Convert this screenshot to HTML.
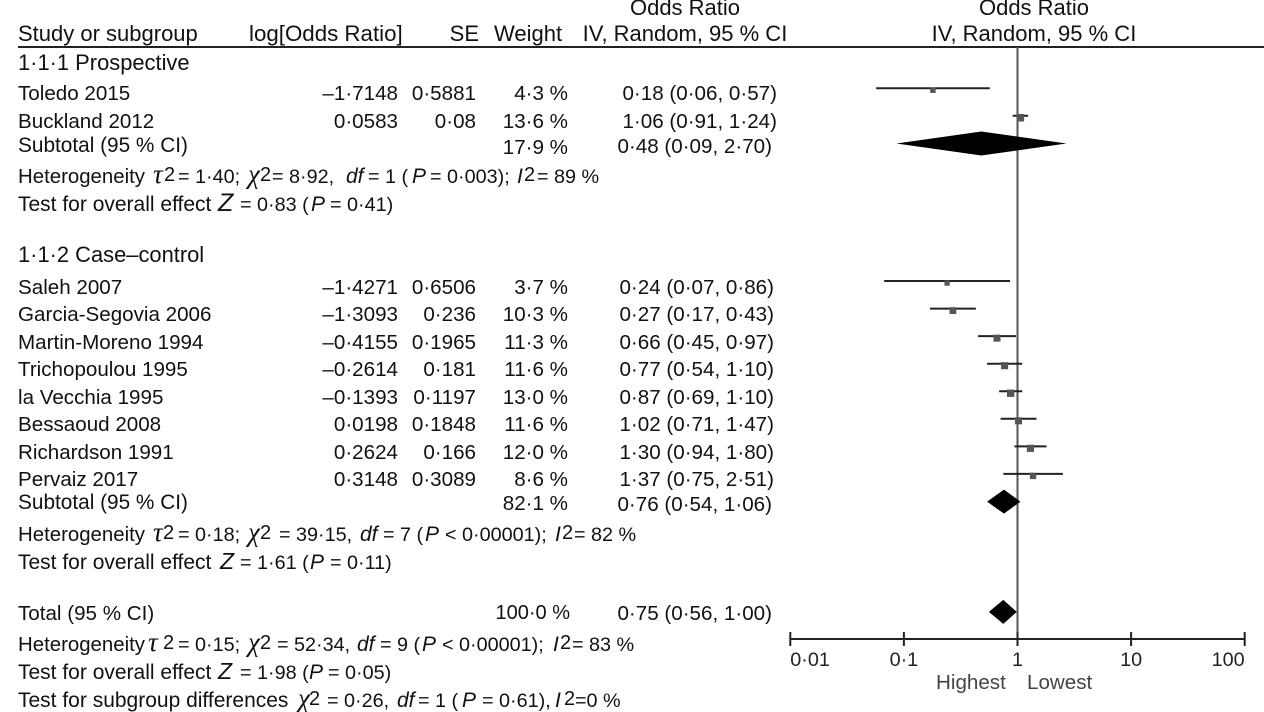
<!DOCTYPE html>
<html lang="en">
<head>
<meta charset="utf-8">
<title>Forest plot</title>
<style>
html,body{margin:0;padding:0;background:#fff;}
svg{display:block;}
text{font-family:"Liberation Sans",Arial,sans-serif;fill:#111;font-size:20.6px;}
.h{font-size:22px;}
.g{font-size:21.9px;}
.s{font-size:20.8px;}
.n{font-size:21px;}
.het{font-size:20.4px;}
.m{font-size:19.8px;}
.r{text-anchor:end;}
.c{text-anchor:middle;}
.gk{font-family:"Liberation Serif",serif;font-style:italic;font-size:27px;}
.i{font-style:italic;}
.sup{font-size:20px;}
.ax{font-size:19.8px;fill:#222;}
.lab{font-size:20.6px;fill:#444;}
</style>
</head>
<body>
<svg id="chart" width="1264" height="712" viewBox="0 0 1264 712" xmlns="http://www.w3.org/2000/svg">
<rect width="1264" height="712" fill="#fff"/>

<g>
<text class="h" x="18" y="41">Study or subgroup</text>
<text class="h" x="249" y="41" style="font-size:22.3px">log[Odds Ratio]</text>
<text class="h r" x="479" y="41">SE</text>
<text class="h" x="494" y="41">Weight</text>
<text class="h c" x="685" y="15">Odds Ratio</text>
<text class="h c" x="685" y="41">IV, Random, 95 % CI</text>
<text class="h c" x="1034" y="15">Odds Ratio</text>
<text class="h c" x="1034" y="41">IV, Random, 95 % CI</text>
</g>
<rect x="18" y="46" width="1246" height="2" fill="#222"/>

<g>
<text class="g" x="18" y="70">1·1·1 Prospective</text>

<g>
<text x="18" y="100">Toledo 2015</text><text class="r" x="398" y="100">–1·7148</text><text class="r" x="476" y="100">0·5881</text><text class="r" x="568" y="100">4·3 %</text><text class="r" x="777" y="100">0·18 (0·06, 0·57)</text>
</g>
<g>
<text x="18" y="128">Buckland 2012</text><text class="r" x="398" y="128">0·0583</text><text class="r" x="476" y="128">0·08</text><text class="r" x="568" y="128">13·6 %</text><text class="r" x="777" y="128">1·06 (0·91, 1·24)</text>
</g>
<g>
<text class="s" x="18" y="152">Subtotal (95 % CI)</text><text class="r" x="568" y="154">17·9 %</text><text class="r" x="772" y="153">0·48 (0·09, 2·70)</text>
</g>
<text class="n" y="183"><tspan class="het" x="18" y="183">Heterogeneity</tspan><tspan class="gk" x="153" y="183">τ</tspan><tspan class="sup" x="164" y="181">2</tspan><tspan class="m" x="178" y="183">= 1·40;</tspan><tspan class="gk" x="248" y="183">χ</tspan><tspan class="sup" x="260" y="181">2</tspan><tspan class="m" x="272" y="183">= 8·92,</tspan><tspan class="i" x="346" y="183">df</tspan><tspan class="m" x="368" y="183">= 1 (</tspan><tspan class="i" x="412" y="183">P</tspan><tspan class="m" x="430" y="183">= 0·003);</tspan><tspan class="i" x="517" y="183">I</tspan><tspan class="sup" x="524" y="181">2</tspan><tspan class="m" x="537" y="183">= 89 %</tspan></text>
<text class="n" y="211"><tspan x="18" y="211">Test for overall effect</tspan><tspan class="i" x="218" y="211" style="font-size:25px">Z</tspan><tspan class="m" x="240" y="211">= 0·83 (</tspan><tspan class="i" x="311" y="211">P</tspan><tspan class="m" x="330" y="211">= 0·41)</tspan></text>

<text class="g" x="18" y="262">1·1·2 Case–control</text>

<g>
<text x="18" y="294">Saleh 2007</text><text class="r" x="398" y="294">–1·4271</text><text class="r" x="476" y="294">0·6506</text><text class="r" x="568" y="294">3·7 %</text><text class="r" x="774" y="294">0·24 (0·07, 0·86)</text>
</g>
<g>
<text x="18" y="321">Garcia-Segovia 2006</text><text class="r" x="398" y="321">–1·3093</text><text class="r" x="476" y="321">0·236</text><text class="r" x="568" y="321">10·3 %</text><text class="r" x="774" y="321">0·27 (0·17, 0·43)</text>
</g>
<g>
<text x="18" y="349">Martin-Moreno 1994</text><text class="r" x="398" y="349">–0·4155</text><text class="r" x="476" y="349">0·1965</text><text class="r" x="568" y="349">11·3 %</text><text class="r" x="774" y="349">0·66 (0·45, 0·97)</text>
</g>
<g>
<text x="18" y="376">Trichopoulou 1995</text><text class="r" x="398" y="376">–0·2614</text><text class="r" x="476" y="376">0·181</text><text class="r" x="568" y="376">11·6 %</text><text class="r" x="774" y="376">0·77 (0·54, 1·10)</text>
</g>
<g>
<text x="18" y="404">la Vecchia 1995</text><text class="r" x="398" y="404">–0·1393</text><text class="r" x="476" y="404">0·1197</text><text class="r" x="568" y="404">13·0 %</text><text class="r" x="774" y="404">0·87 (0·69, 1·10)</text>
</g>
<g>
<text x="18" y="431">Bessaoud 2008</text><text class="r" x="398" y="431">0·0198</text><text class="r" x="476" y="431">0·1848</text><text class="r" x="568" y="431">11·6 %</text><text class="r" x="774" y="431">1·02 (0·71, 1·47)</text>
</g>
<g>
<text x="18" y="459">Richardson 1991</text><text class="r" x="398" y="459">0·2624</text><text class="r" x="476" y="459">0·166</text><text class="r" x="568" y="459">12·0 %</text><text class="r" x="774" y="459">1·30 (0·94, 1·80)</text>
</g>
<g>
<text x="18" y="486">Pervaiz 2017</text><text class="r" x="398" y="486">0·3148</text><text class="r" x="476" y="486">0·3089</text><text class="r" x="568" y="486">8·6 %</text><text class="r" x="774" y="486">1·37 (0·75, 2·51)</text>
</g>
<g>
<text class="s" x="18" y="509">Subtotal (95 % CI)</text><text class="r" x="568" y="510">82·1 %</text><text class="r" x="772" y="511">0·76 (0·54, 1·06)</text>
</g>
<text class="n" y="541"><tspan class="het" x="18" y="541">Heterogeneity</tspan><tspan class="gk" x="153" y="541">τ</tspan><tspan class="sup" x="163" y="539">2</tspan><tspan class="m" x="178" y="541">= 0·18;</tspan><tspan class="gk" x="248" y="541">χ</tspan><tspan class="sup" x="260" y="539">2</tspan><tspan class="m" x="279" y="541">= 39·15,</tspan><tspan class="i" x="360" y="541">df</tspan><tspan class="m" x="383" y="541">= 7 (</tspan><tspan class="i" x="425" y="541">P</tspan><tspan class="m" x="445" y="541">&lt; 0·00001);</tspan><tspan class="i" x="555" y="541">I</tspan><tspan class="sup" x="562" y="539">2</tspan><tspan class="m" x="574" y="541">= 82 %</tspan></text>
<text class="n" y="569"><tspan x="18" y="569">Test for overall effect</tspan><tspan class="i" x="220" y="569" style="font-size:23px">Z</tspan><tspan class="m" x="240" y="569">= 1·61 (</tspan><tspan class="i" x="310" y="569">P</tspan><tspan class="m" x="330" y="569">= 0·11)</tspan></text>

<g>
<text x="18" y="620">Total (95 % CI)</text><text class="r" x="570" y="619" style="font-size:20px">100·0 %</text><text class="r" x="772" y="620">0·75 (0·56, 1·00)</text>
</g>
<text class="n" y="651"><tspan class="het" x="18" y="651">Heterogeneity</tspan><tspan class="gk" x="148" y="651">τ</tspan><tspan class="sup" x="163" y="649">2</tspan><tspan class="m" x="178" y="651">= 0·15;</tspan><tspan class="gk" x="248" y="651">χ</tspan><tspan class="sup" x="260" y="649">2</tspan><tspan class="m" x="277" y="651">= 52·34,</tspan><tspan class="i" x="357" y="651">df</tspan><tspan class="m" x="380" y="651">= 9 (</tspan><tspan class="i" x="422" y="651">P</tspan><tspan class="m" x="442" y="651">&lt; 0·00001);</tspan><tspan class="i" x="553" y="651">I</tspan><tspan class="sup" x="560" y="649">2</tspan><tspan class="m" x="572" y="651">= 83 %</tspan></text>
<text class="n" y="679"><tspan x="18" y="679">Test for overall effect</tspan><tspan class="i" x="218" y="679" style="font-size:23px">Z</tspan><tspan class="m" x="240" y="679">= 1·98 (</tspan><tspan class="i" x="309" y="679">P</tspan><tspan class="m" x="328" y="679">= 0·05)</tspan></text>
<text class="n" y="707"><tspan x="18" y="707">Test for subgroup differences</tspan><tspan class="gk" x="298" y="707">χ</tspan><tspan class="sup" x="309" y="705">2</tspan><tspan class="m" x="327" y="707">= 0·26,</tspan><tspan class="i" x="397" y="707">df</tspan><tspan class="m" x="418" y="707">= 1 (</tspan><tspan class="i" x="462" y="707">P</tspan><tspan class="m" x="482" y="707">= 0·61),</tspan><tspan class="i" x="555" y="707">I</tspan><tspan class="sup" x="564" y="705">2</tspan><tspan class="m" x="575" y="707">=0 %</tspan></text>
</g>

<g id="plot"></g>
<text class="lab" x="936" y="689">Highest</text>
<text class="lab" x="1027" y="689">Lowest</text>
</svg>

<script>
// Row order of the table; a mark's vertical position comes from its row's place here.
const rows = ["Toledo 2015","Buckland 2012","Subtotal prospective","","","","",
  "Saleh 2007","Garcia-Segovia 2006","Martin-Moreno 1994","Trichopoulou 1995","la Vecchia 1995",
  "Bessaoud 2008","Richardson 1991","Pervaiz 2017","Subtotal case-control","","","","Total"];

const studies   = ["Toledo 2015","Buckland 2012","Saleh 2007","Garcia-Segovia 2006","Martin-Moreno 1994","Trichopoulou 1995","la Vecchia 1995","Bessaoud 2008","Richardson 1991","Pervaiz 2017"];
const oddsRatio = [0.18,1.06,0.24,0.27,0.66,0.77,0.87,1.02,1.30,1.37];
const ciLow     = [0.057,0.906,0.067,0.17,0.45,0.54,0.69,0.71,0.94,0.75];
const ciHigh    = [0.57,1.24,0.859,0.43,0.97,1.10,1.10,1.47,1.80,2.51];
const weights   = [4.3,13.6,3.7,10.3,11.3,11.6,13.0,11.6,12.0,8.6];

const summaries   = ["Subtotal prospective","Subtotal case-control","Total"];
const summaryOR   = [0.48,0.76,0.75];
const summaryLow  = [0.086,0.54,0.56];
const summaryHigh = [2.70,1.06,0.985];

const tickValues = [0.01,0.1,1,10,100];
const tickLabels = ["0·01","0·1","1","10","100"];

const NS = "http://www.w3.org/2000/svg";
const plot = document.getElementById("plot");

function xScale(v){ return 1017.5 + Math.log10(v) * 113.6; }
function yScale(name){ return 88.2 + 27.55 * rows.indexOf(name); }
function markerSize(w){ return 4.5 + 3 * (w / 13.6); }
function slug(s){ return s.toLowerCase().replace(/[^a-z0-9]+/g, "-"); }

function add(tag, attrs){
  const el = document.createElementNS(NS, tag);
  for (const k in attrs) el.setAttribute(k, attrs[k]);
  plot.appendChild(el);
  return el;
}

// Line of no effect
const nullLine = add("line", {x1:xScale(1), x2:xScale(1), y1:47, y2:639, stroke:"#555", "stroke-width":2});



// Study confidence intervals and point estimates
studies.forEach(function(name, i){
  const y = yScale(name);
  const line = add("line", {x1:xScale(ciLow[i]), x2:xScale(ciHigh[i]), y1:y, y2:y, stroke:"#222", "stroke-width":2});
  
  
  const s = markerSize(weights[i]);
  const box = add("rect", {x:xScale(oddsRatio[i]) - s / 2, y:y + 2 - s / 2, width:s, height:s, fill:"#555"});
  
  
});

// Pooled-effect diamonds
summaries.forEach(function(name, i){
  const y = yScale(name) + 0.2;
  const pts = [
    [xScale(summaryLow[i]), y],
    [xScale(summaryOR[i]), y - 12],
    [xScale(summaryHigh[i]), y],
    [xScale(summaryOR[i]), y + 12]
  ].map(function(p){ return p.join(","); }).join(" ");
  const d = add("polygon", {points:pts, fill:"#000"});
  
  
});

// X axis
const axisLine = add("line", {x1:xScale(tickValues[0]), x2:xScale(tickValues[tickValues.length - 1]), y1:639, y2:639, stroke:"#222", "stroke-width":2});



tickValues.forEach(function(v, i){
  const x = xScale(v);
  const tick = add("line", {x1:x, x2:x, y1:632, y2:646, stroke:"#222", "stroke-width":2});
  
  
  const first = i === 0, last = i === tickValues.length - 1;
  const label = add("text", {x:x, y:666, class:"ax", "text-anchor": first ? "start" : last ? "end" : "middle"});
  label.textContent = tickLabels[i];
  
  
});
</script>
</body>
</html>
